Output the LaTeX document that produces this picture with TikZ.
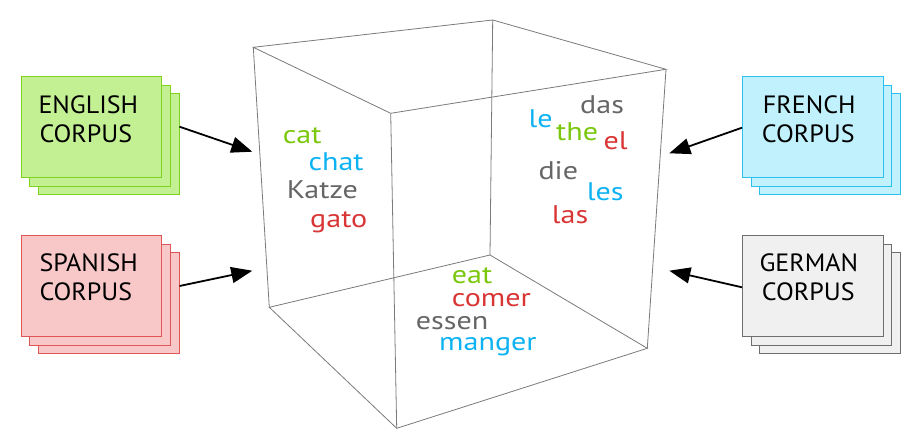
\documentclass[tikz,border=0pt]{standalone}
\usepackage{fontspec}
\setmainfont{PT Sans}
\newfontfamily\wordfont[FakeStretch=1.18]{PT Sans}
\newfontfamily\corpfont[FakeStretch=1.04]{PT Sans}
\usetikzlibrary{arrows.meta}
\definecolor{gfill}{HTML}{C2F093}
\definecolor{gline}{HTML}{7ED321}
\definecolor{rfill}{HTML}{F8C8C8}
\definecolor{rline}{HTML}{E05555}
\definecolor{bfill}{HTML}{C0F1FC}
\definecolor{bline}{HTML}{2BC0F0}
\definecolor{kfill}{HTML}{F0F0F0}
\definecolor{kline}{HTML}{6E6E6E}
\definecolor{wgreen}{HTML}{7AC70C}
\definecolor{wblue}{HTML}{0DB2F2}
\definecolor{wgray}{HTML}{666666}
\definecolor{wred}{HTML}{D93535}
\definecolor{cubeline}{HTML}{7A7A7A}
\begin{document}
\begin{tikzpicture}[x=1pt,y=-1pt,
  sheet/.style={draw=#1,line width=0.9pt,minimum width=140.6pt,minimum height=101.3pt,inner sep=0pt,anchor=north west},
  corp/.style={font=\corpfont\fontsize{25}{25}\selectfont,anchor=base west,inner sep=0pt,text=black},
  word/.style={font=\wordfont\fontsize{25.5}{25.5}\selectfont,anchor=base west,inner sep=0pt,text depth=0pt},
  edge/.style={draw=cubeline,line width=0.8pt},
  feed/.style={line width=1.8pt,-{Triangle[length=21pt,width=16pt]}}]
\useasboundingbox (0,0) rectangle (919,447);
% cube vertices
\coordinate (A) at (253.3,47.3);
\coordinate (B) at (492.7,20);
\coordinate (C) at (666,69.3);
\coordinate (D) at (390.7,113.3);
\coordinate (E) at (269.3,307.3);
\coordinate (F) at (490,255);
\coordinate (G) at (647.3,348.3);
\coordinate (H) at (396.7,428.3);
\draw[edge] (A) -- (B) -- (C) -- (D) -- cycle;
\draw[edge] (E) -- (F) -- (G) -- (H) -- cycle;
\draw[edge] (A) -- (E);
\draw[edge] (B) -- (F);
\draw[edge] (C) -- (G);
\draw[edge] (D) -- (H);
% English
\node[sheet=gline,fill=gfill] (en3) at (38,92.7) {};
\node[sheet=gline,fill=gfill] (en2) at (29.3,84.7) {};
\node[sheet=gline,fill=gfill] (en1) at (20.7,76) {};
\node[corp] (enA) at (38.3,113.3) {ENGLISH};
\node[corp] (enB) at (39.3,142.7) {CORPUS};
% Spanish
\node[sheet=rline,fill=rfill] (es3) at (38,252) {};
\node[sheet=rline,fill=rfill] (es2) at (29.3,243.5) {};
\node[sheet=rline,fill=rfill] (es1) at (20.7,235) {};
\node[corp] (esA) at (39.3,271.7) {SPANISH};
\node[corp] (esB) at (39.3,300.7) {CORPUS};
% French
\node[sheet=bline,fill=bfill] (fr3) at (759.3,92.7) {};
\node[sheet=bline,fill=bfill] (fr2) at (750.7,84.7) {};
\node[sheet=bline,fill=bfill] (fr1) at (742,76) {};
\node[corp] (frA) at (762.7,113.3) {FRENCH};
\node[corp] (frB) at (761.7,142.7) {CORPUS};
% German
\node[sheet=kline,fill=kfill] (de3) at (759.3,252) {};
\node[sheet=kline,fill=kfill] (de2) at (750.7,243.5) {};
\node[sheet=kline,fill=kfill] (de1) at (742,235) {};
\node[corp] (deA) at (759.3,271.7) {GERMAN};
\node[corp] (deB) at (761.7,300.7) {CORPUS};
% arrow targets
\coordinate (tEn) at (252.3,151.7);
\coordinate (tEs) at (252.3,270.7);
\coordinate (tFr) at (669.3,153.3);
\coordinate (tDe) at (669.3,270.7);
\draw[feed] (en3.east |- 0,126.7) -- (tEn);
\draw[feed] (es3.east |- 0,286) -- (tEs);
\draw[feed] (fr1.west |- 0,127.7) -- (tFr);
\draw[feed] (de1.west |- 0,287.3) -- (tDe);
% words
\node[word,text=wgreen] (w1) at (282.7,143.3) {cat};
\node[word,text=wblue] (w2) at (308.3,170.7) {chat};
\node[word,text=wgray] (w3) at (286.7,198.3) {Katze};
\node[word,text=wred] (w4) at (310,227) {gato};
\node[word,text=wblue] (w5) at (528.3,127.3) {le};
\node[word,text=wgray] (w6) at (580,113.3) {das};
\node[word,text=wgreen] (w7) at (556,140.7) {the};
\node[word,text=wred] (w8) at (603.3,149) {el};
\node[word,text=wgray] (w9) at (538.3,179) {die};
\node[word,text=wblue] (w10) at (586.7,200) {les};
\node[word,text=wred] (w11) at (551.7,223.3) {las};
\node[word,text=wgreen] (w12) at (451.7,283.3) {eat};
\node[word,text=wred] (w13) at (451.7,306.7) {comer};
\node[word,text=wgray] (w14) at (415.7,329) {essen};
\node[word,text=wblue] (w15) at (439,350) {manger};
\end{tikzpicture}
\end{document}
